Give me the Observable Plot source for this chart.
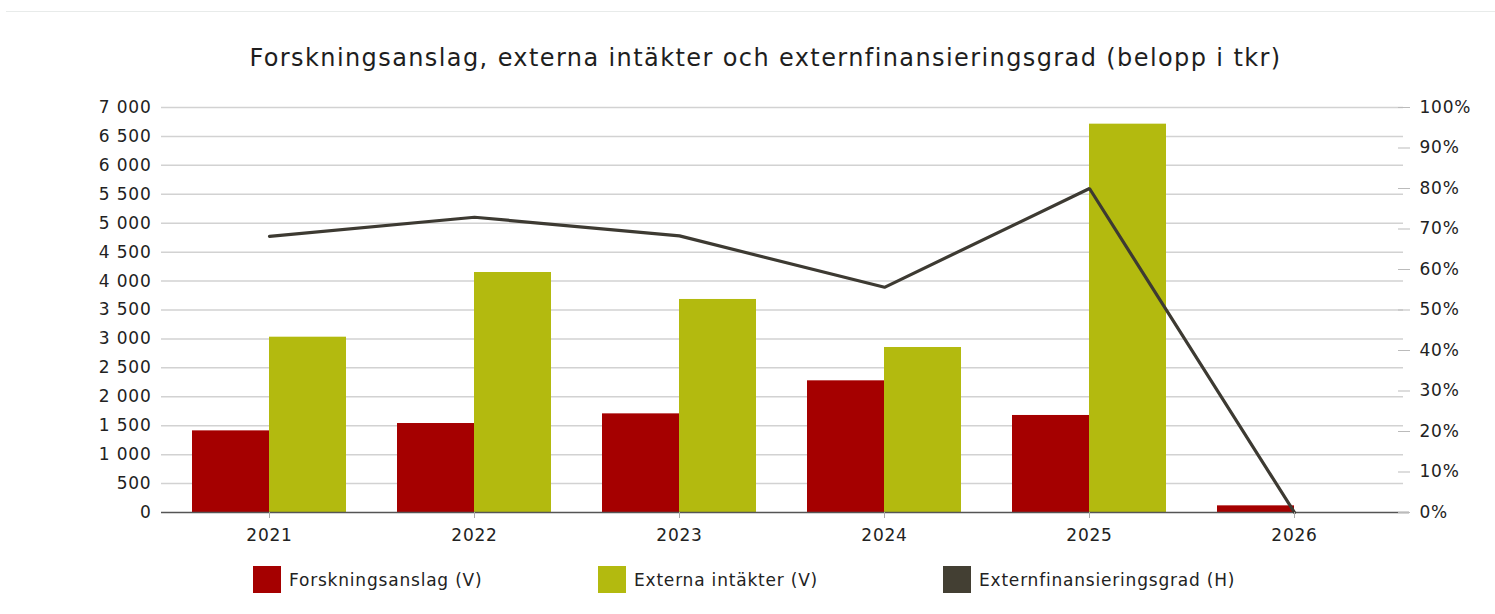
<!DOCTYPE html>
<html>
<head>
<meta charset="utf-8">
<script src="https://cdn.jsdelivr.net/npm/d3@7"></script>
<script src="https://cdn.jsdelivr.net/npm/@observablehq/plot@0.6"></script>
<style>
  html, body { margin: 0; padding: 0; background: #fff; width: 1495px; height: 614px; overflow: hidden; }
  body { position: relative; font-family: "DejaVu Sans", Verdana, sans-serif; color: #222; }
  #topline { position: absolute; left: 6px; right: 0; top: 11px; height: 1px; background: #e8ebea; }
  #title { position: absolute; left: 0; width: 1531px; top: 44px; text-align: center; font-size: 24px; letter-spacing: 1.4px; color: #1e1e1e; white-space: nowrap; }
  #chart { position: absolute; left: 0; top: 90px; }
  .legend { position: absolute; top: 566px; display: flex; align-items: center; font-size: 17px; letter-spacing: 0.8px; color: #222; white-space: nowrap; }
  .legend .sw { width: 28px; height: 27px; margin-right: 8px; box-sizing: border-box; }
  #chart svg text { letter-spacing: 0.8px; }
</style>
</head>
<body>
<div id="topline"></div>
<div id="title">Forskningsanslag, externa intäkter och externfinansieringsgrad (belopp i tkr)</div>
<div id="chart"></div>
<div id="legend"></div>
<script>
const years = ["2021", "2022", "2023", "2024", "2025", "2026"];
const forskningsanslag = [1411, 1538, 1705, 2276, 1677, 115];
const externaIntakter = [3030, 4148, 3682, 2852, 6712, 0];
const externfinansieringsgrad = [68.2, 72.9, 68.3, 55.6, 80.0, 0];
const leftTicks = d3.range(0, 7001, 500);
const rightTicks = d3.range(0, 101, 10);
const seriesNames = ["Forskningsanslag (V)", "Externa intäkter (V)", "Externfinansieringsgrad (H)"];
const seriesColors = ["#a50000", "#b3ba0f", "#433f33"];

const yMax = 7000;
const pctToY = p => p / 100 * yMax;

const rows = years.map((y, i) => ({
  year: y,
  fa: forskningsanslag[i],
  ei: externaIntakter[i],
  pct: externfinansieringsgrad[i]
}));

const W = 1495, H = 460, mL = 165, mR = 98;
const bandStep = (W - mL - mR) / years.length;
const bandW = bandStep * 0.75;
const fmt = d => d3.format(",")(d).replace(/,/g, " ");

const chart = Plot.plot({
  width: W,
  height: H,
  marginLeft: mL,
  marginRight: mR,
  marginTop: 17,
  marginBottom: 38,
  style: { fontFamily: "DejaVu Sans, Verdana, sans-serif", fontSize: "17px", color: "#222", background: "transparent" },
  x: { domain: years, paddingInner: 0.25, paddingOuter: 0.125, label: null },
  y: { domain: [0, yMax], label: null },
  marks: [
    Plot.ruleY(leftTicks.filter(d => d > 0), { stroke: "#d2d2d2", strokeWidth: 1.5, insetLeft: -4, insetRight: -6 }),
    Plot.barY(rows, { x: "year", y: "fa", fill: seriesColors[0], insetRight: bandW / 2 }),
    Plot.barY(rows, { x: "year", y: "ei", fill: seriesColors[1], insetLeft: bandW / 2 }),
    Plot.ruleY([0], { stroke: "#555", strokeWidth: 1.5, insetLeft: -4, insetRight: -12 }),
    Plot.line(rows, { x: "year", y: d => pctToY(d.pct), stroke: "#3d3a32", strokeWidth: 3.2, strokeLinejoin: "miter" }),
    Plot.axisY({ anchor: "left", ticks: leftTicks, tickFormat: fmt, tickSize: 0, tickPadding: 14, fill: "#222" }),
    Plot.axisY({ anchor: "right", ticks: rightTicks.map(pctToY), tickFormat: d => Math.round(d / yMax * 100) + "%", tickSize: 12, tickPadding: 10, stroke: "#bbb", fill: "#222" }),
    Plot.axisX({ tickSize: 6, tickPadding: 10, stroke: "#aaa", fill: "#222" })
  ]
});
document.getElementById("chart").appendChild(chart);

// legend
const legendX = [253, 598, 943];
const legendRoot = document.getElementById("legend");
seriesNames.forEach((name, i) => {
  const item = document.createElement("div");
  item.className = "legend";
  item.style.left = legendX[i] + "px";
  const sw = document.createElement("div");
  sw.className = "sw";
  sw.style.background = seriesColors[i];
  const label = document.createElement("span");
  label.textContent = name;
  item.appendChild(sw);
  item.appendChild(label);
  legendRoot.appendChild(item);
});
</script>
</body>
</html>
